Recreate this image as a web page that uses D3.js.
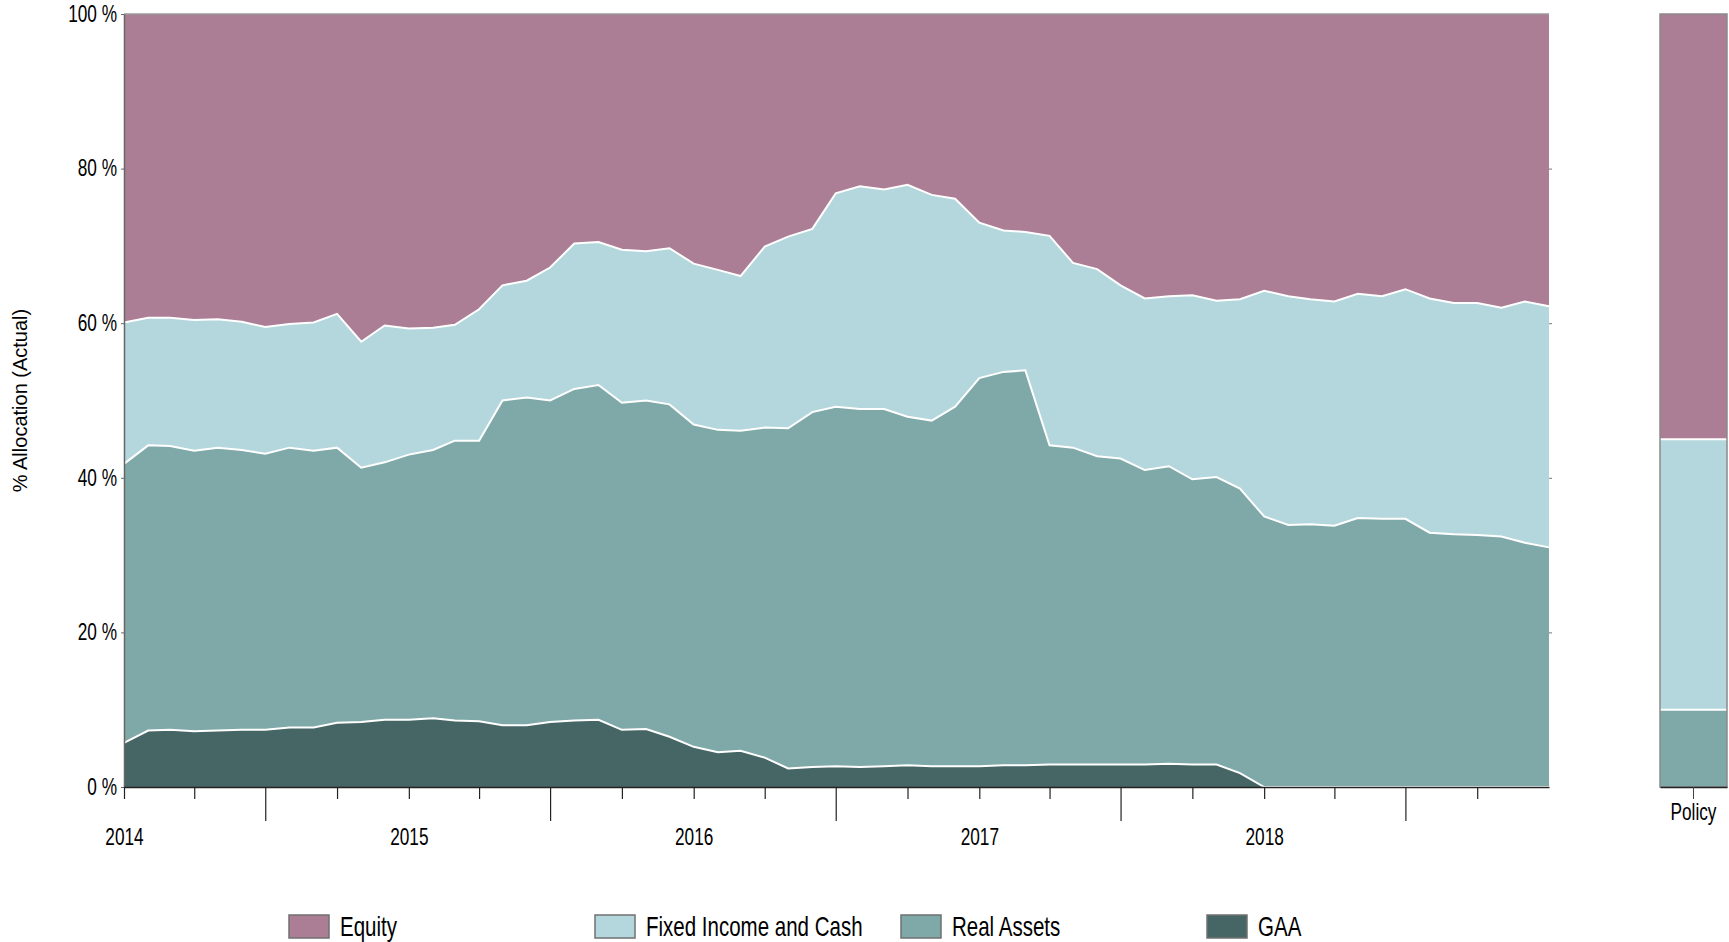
<!DOCTYPE html>
<html>
<head>
<meta charset="utf-8">
<script src="https://cdn.jsdelivr.net/npm/d3@7"></script>
<style>
  html, body { margin: 0; padding: 0; background: #fff; }
  svg { display: block; }
  text { font-family: "Liberation Sans", Arial, sans-serif; fill: #000; }
</style>
</head>
<body>
<svg id="chart"></svg>
<script>
// series, listed top of stack first (legend order)
const seriesNames = ["Equity", "Fixed Income and Cash", "Real Assets", "GAA"];
const seriesColors = ["#ac7e96", "#b4d7dd", "#7fa9a8", "#466665"];

// monthly allocation in %, Jan 2014 .. Jan 2019
const equity = [
  39.9, 39.3, 39.3, 39.6, 39.5, 39.8, 40.5, 40.1, 39.9, 38.8, 42.4, 40.3,
  40.7, 40.6, 40.2, 38.2, 35.1, 34.5, 32.8, 29.7, 29.5, 30.5, 30.7, 30.3,
  32.3, 33.1, 33.9, 30.1, 28.8, 27.8, 23.2, 22.3, 22.7, 22.1, 23.4, 23.9,
  27.0, 28.0, 28.2, 28.7, 32.2, 33.0, 35.1, 36.8, 36.5, 36.4, 37.1, 36.9,
  35.8, 36.5, 36.9, 37.2, 36.2, 36.5, 35.6, 36.8, 37.4, 37.4, 38.0, 37.2, 37.8
];
const fixedIncome = [
  18.3, 16.5, 16.6, 16.9, 16.6, 16.6, 16.4, 16.0, 16.6, 17.3, 16.3, 17.7,
  16.3, 15.8, 15.0, 17.0, 14.9, 15.1, 17.2, 18.8, 18.5, 19.8, 19.3, 20.2,
  20.8, 20.7, 20.0, 23.4, 24.8, 23.7, 27.6, 28.8, 28.4, 30.0, 29.2, 26.9,
  20.1, 18.3, 17.9, 27.1, 23.9, 24.2, 22.4, 22.2, 22.0, 23.8, 22.8, 24.5,
  29.2, 29.6, 29.1, 29.0, 29.0, 28.8, 29.7, 30.3, 29.9, 30.0, 29.6, 31.2, 31.2
];
const realAssets = [
  36.1, 36.9, 36.7, 36.3, 36.6, 36.2, 35.7, 36.2, 35.8, 35.6, 32.9, 33.3,
  34.3, 34.7, 36.2, 36.3, 42.0, 42.4, 41.6, 42.9, 43.3, 42.3, 42.5, 43.0,
  41.7, 41.7, 41.4, 42.7, 44.0, 45.9, 46.5, 46.3, 46.2, 45.1, 44.7, 46.5,
  50.2, 50.9, 51.1, 41.3, 41.0, 39.9, 39.6, 38.1, 38.5, 36.9, 37.2, 36.8,
  35.0, 33.9, 34.0, 33.8, 34.8, 34.7, 34.7, 32.9, 32.7, 32.6, 32.4, 31.6, 31.0
];
const gaa = [
  5.7, 7.3, 7.4, 7.2, 7.3, 7.4, 7.4, 7.7, 7.7, 8.3, 8.4, 8.7,
  8.7, 8.9, 8.6, 8.5, 8.0, 8.0, 8.4, 8.6, 8.7, 7.4, 7.5, 6.5,
  5.2, 4.5, 4.7, 3.8, 2.4, 2.6, 2.7, 2.6, 2.7, 2.8, 2.7, 2.7,
  2.7, 2.8, 2.8, 2.9, 2.9, 2.9, 2.9, 2.9, 3.0, 2.9, 2.9, 1.8,
  0, 0, 0, 0, 0, 0, 0, 0, 0, 0, 0, 0, 0
];

// policy target (same order as seriesNames)
const policyLabel = "Policy";
const policyValues = [55, 35, 10, 0];

const yTickValues = [0, 20, 40, 60, 80, 100];
const startDate = new Date(2014, 0, 1);
const endDate = new Date(2019, 0, 1);

// ---- layout
const width = 1729;
const height = 942;
const marginLeft = 124;
const plotRight = 1549;
const marginTop = 14;
const plotBottom = 787;
const policyLeft = 1660;
const policyRight = 1727;

// the chart uses a condensed face; squeeze Liberation Sans horizontally
function narrow(sel, k = 0.75) {
  sel.each(function () {
    const t = d3.select(this);
    const x0 = +t.attr("x") || 0;
    t.attr("x", x0 / k).attr("transform", `scale(${k},1)`);
  });
}

const svg = d3.select("#chart")
  .attr("width", width)
  .attr("height", height)
  .attr("viewBox", [0, 0, width, height]);

// build table for d3.stack
const seriesArrays = [equity, fixedIncome, realAssets, gaa];
const rows = equity.map((_, i) => {
  const row = { date: d3.timeMonth.offset(startDate, i) };
  seriesNames.forEach((name, k) => { row[name] = seriesArrays[k][i]; });
  return row;
});

// bottom of the stack is GAA
const stackKeys = seriesNames.slice().reverse();
const colorOf = d3.scaleOrdinal().domain(seriesNames).range(seriesColors);

const stacked = d3.stack().keys(stackKeys)(rows);

const x = d3.scaleTime()
  .domain([startDate, endDate])
  .range([marginLeft, plotRight]);

const y = d3.scaleLinear()
  .domain([0, 100])
  .range([plotBottom, marginTop]);

const area = d3.area()
  .x(d => x(d.data.date))
  .y0(d => y(d[0]))
  .y1(d => y(d[1]));

const topLine = d3.line()
  .x(d => x(d.data.date))
  .y(d => y(d[1]));

svg.append("g")
  .selectAll("path")
  .data(stacked)
  .join("path")
  .attr("fill", d => colorOf(d.key))
  .attr("d", area);

// white separators on top of the lower layers
svg.append("g")
  .selectAll("path")
  .data(stacked.filter(s => s.key !== "Equity"))
  .join("path")
  .attr("fill", "none")
  .attr("stroke", "#fff")
  .attr("stroke-width", 2)
  .attr("d", topLine);

// frame top
svg.append("line")
  .attr("x1", marginLeft).attr("x2", plotRight)
  .attr("y1", marginTop).attr("y2", marginTop)
  .attr("stroke", "#9a9a9a")
  .attr("stroke-width", 1.5);

// right side small ticks
const rightAxis = svg.append("g")
  .attr("transform", `translate(${plotRight},0)`)
  .call(d3.axisRight(y).tickValues([20, 40, 60, 80]).tickSize(3).tickFormat(""));
rightAxis.select(".domain").remove();
rightAxis.selectAll("line").attr("stroke", "#777");

// y axis
const yAxis = svg.append("g")
  .attr("transform", `translate(${marginLeft},0)`)
  .call(d3.axisLeft(y).tickValues(yTickValues).tickFormat(d => d + " %").tickSize(3).tickPadding(4).tickSizeOuter(0));
yAxis.select(".domain").attr("stroke", "#666").attr("stroke-width", 1.5);
yAxis.selectAll("line").attr("stroke", "#666");
yAxis.selectAll("text")
  .style("font-family", "'Liberation Sans', Arial, sans-serif")
  .style("font-size", "23px")
  .attr("fill", "#000")
  .call(narrow);

svg.append("text")
  .attr("transform", `translate(20,${(marginTop + plotBottom) / 2}) rotate(-90)`)
  .attr("text-anchor", "middle")
  .attr("dy", "0.35em")
  .style("font-size", "20px")
  .text("% Allocation (Actual)");

// x axis: quarterly ticks, long ones in July, year labels in January
const xAxis = svg.append("g")
  .attr("transform", `translate(0,${plotBottom})`)
  .call(d3.axisBottom(x)
    .ticks(d3.timeMonth.every(3))
    .tickSize(12)
    .tickSizeOuter(0)
    .tickPadding(30)
    .tickFormat(d => d.getMonth() === 0 ? d3.timeFormat("%Y")(d) : ""));
xAxis.select(".domain").attr("stroke", "#222").attr("stroke-width", 1.5);
xAxis.selectAll(".tick line")
  .attr("stroke", "#222")
  .attr("stroke-width", 1.2)
  .attr("y2", d => d.getMonth() === 6 ? 34 : 12);
// the 2019 end tick is not shown
xAxis.selectAll(".tick").filter(d => +d >= +endDate).remove();
xAxis.selectAll("text")
  .style("font-family", "'Liberation Sans', Arial, sans-serif")
  .style("font-size", "23px")
  .attr("fill", "#000")
  .call(narrow);

// ---- policy column
const px = d3.scaleBand().domain([policyLabel]).range([policyLeft, policyRight]);
const policyRow = { label: policyLabel };
seriesNames.forEach((name, k) => { policyRow[name] = policyValues[k]; });
const policyStack = d3.stack().keys(stackKeys)([policyRow]);

svg.append("g")
  .selectAll("rect")
  .data(policyStack)
  .join("rect")
  .attr("x", px(policyLabel))
  .attr("width", px.bandwidth())
  .attr("y", d => y(d[0][1]))
  .attr("height", d => y(d[0][0]) - y(d[0][1]))
  .attr("fill", d => colorOf(d.key));

svg.append("g")
  .selectAll("line")
  .data(policyStack.filter(s => s.key !== "Equity" && s[0][1] > 0))
  .join("line")
  .attr("x1", px(policyLabel))
  .attr("x2", px(policyLabel) + px.bandwidth())
  .attr("y1", d => y(d[0][1]))
  .attr("y2", d => y(d[0][1]))
  .attr("stroke", "#fff")
  .attr("stroke-width", 2);

svg.append("rect")
  .attr("x", policyLeft)
  .attr("y", marginTop)
  .attr("width", policyRight - policyLeft)
  .attr("height", plotBottom - marginTop)
  .attr("fill", "none")
  .attr("stroke", "#8a8a8a")
  .attr("stroke-width", 1.5);

const pAxis = svg.append("g")
  .attr("transform", `translate(0,${plotBottom})`)
  .call(d3.axisBottom(px).tickSize(12).tickSizeOuter(0).tickPadding(5));
pAxis.select(".domain").attr("stroke", "#222").attr("stroke-width", 1.5);
pAxis.selectAll("line").attr("stroke", "#444");
pAxis.selectAll("text")
  .style("font-family", "'Liberation Sans', Arial, sans-serif")
  .style("font-size", "23px")
  .attr("fill", "#000")
  .call(narrow);

// ---- legend
const lx = d3.scaleBand().domain(seriesNames).range([289, 1513]);
const legend = svg.append("g")
  .selectAll("g")
  .data(seriesNames)
  .join("g")
  .attr("transform", d => `translate(${lx(d)},915)`);

legend.append("rect")
  .attr("width", 40)
  .attr("height", 23)
  .attr("fill", d => colorOf(d))
  .attr("stroke", "#707070")
  .attr("stroke-width", 1.5);

legend.append("text")
  .attr("x", 51)
  .attr("y", 12)
  .attr("dy", "0.35em")
  .style("font-size", "27px")
  .text(d => d)
  .call(narrow, 0.76);
</script>
</body>
</html>
